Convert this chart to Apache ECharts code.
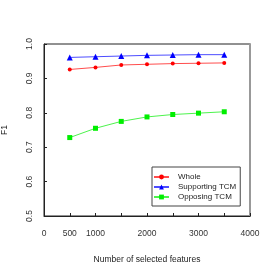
<!DOCTYPE html>
<html><head><meta charset="utf-8">
<script src="https://cdn.jsdelivr.net/npm/echarts@6/dist/echarts.min.js"></script>
<style>html,body{margin:0;padding:0;background:#fff}#c{width:273px;height:272px}</style>
</head><body><div id="c"></div>
<script>
const xValues = [500, 1000, 1500, 2000, 2500, 3000, 3500];
const whole = [0.926, 0.932, 0.939, 0.941, 0.943, 0.944, 0.945];
const supporting = [0.961, 0.963, 0.965, 0.967, 0.968, 0.969, 0.969];
const opposing = [0.728, 0.755, 0.775, 0.788, 0.795, 0.799, 0.803];
const xTickLabels = [0, 500, 1000, 2000, 3000, 4000];
const yTickLabels = [0.5, 0.6, 0.7, 0.8, 0.9, 1.0];
const seriesNames = ['Whole', 'Supporting TCM', 'Opposing TCM'];

const font = 'Liberation Sans, Arial, sans-serif';
const chart = echarts.init(document.getElementById('c'), null, {renderer: 'canvas'});
const mk = (name, data, color, symbol, size) => ({
  name, type: 'line', data: xValues.map((x, i) => [x, data[i]]),
  symbol, symbolSize: size, itemStyle: {color},
  lineStyle: {color, width: 1, opacity: 0.7}, animation: false
});
chart.setOption({
  animation: false,
  grid: {left: 44, top: 44, right: 23, bottom: 56, containLabel: false, outerBoundsMode: 'none',
    show: true, borderColor: '#222', borderWidth: 1},
  xAxis: {
    type: 'value', min: 0, max: 4000, interval: 500,
    name: 'Number of selected features', nameLocation: 'middle', nameGap: 39,
    nameTextStyle: {fontFamily: font, fontSize: 8.5, color: '#222'},
    axisLine: {lineStyle: {color: '#222'}},
    axisTick: {inside: true, length: 3, lineStyle: {color: '#222'}},
    splitLine: {show: false},
    axisLabel: {fontFamily: font, fontSize: 8.5, color: '#333', margin: 13,
      formatter: v => xTickLabels.includes(v) ? String(v) : ''}
  },
  yAxis: [{
    type: 'value', min: 0.5, max: 1.0, interval: 0.1,
    name: 'F1', nameLocation: 'middle', nameGap: 35,
    nameTextStyle: {fontFamily: font, fontSize: 8.5, color: '#222'},
    axisLine: {lineStyle: {color: '#222'}},
    axisTick: {inside: true, length: 3, lineStyle: {color: '#222'}},
    splitLine: {show: false},
    axisLabel: {fontFamily: font, fontSize: 8.5, color: '#333', rotate: 90, margin: 10,
      formatter: v => { const t = yTickLabels.find(y => Math.abs(y - v) < 1e-9); return t === undefined ? '' : t.toFixed(1); }}
  }, {
    type: 'value', min: 0.5, max: 1.0, position: 'right',
    axisLine: {show: true, lineStyle: {color: '#999', width: 2}},
    axisTick: {show: false}, axisLabel: {show: false}, splitLine: {show: false}
  }],
  legend: {
    data: seriesNames, orient: 'vertical', left: 152, top: 167,
    padding: [6, 4, 5, 1], itemGap: 2,
    borderColor: '#444', borderWidth: 1, backgroundColor: '#fff',
    itemWidth: 15, itemHeight: 6,
    textStyle: {fontFamily: font, fontSize: 8, color: '#222', padding: [0, 0, 0, 4]}
  },
  series: [
    mk(seriesNames[0], whole, '#ff0000', 'circle', 4),
    mk(seriesNames[1], supporting, '#0000ff', 'triangle', 6),
    mk(seriesNames[2], opposing, '#00ee00', 'rect', 5)
  ]
});
</script></body></html>
